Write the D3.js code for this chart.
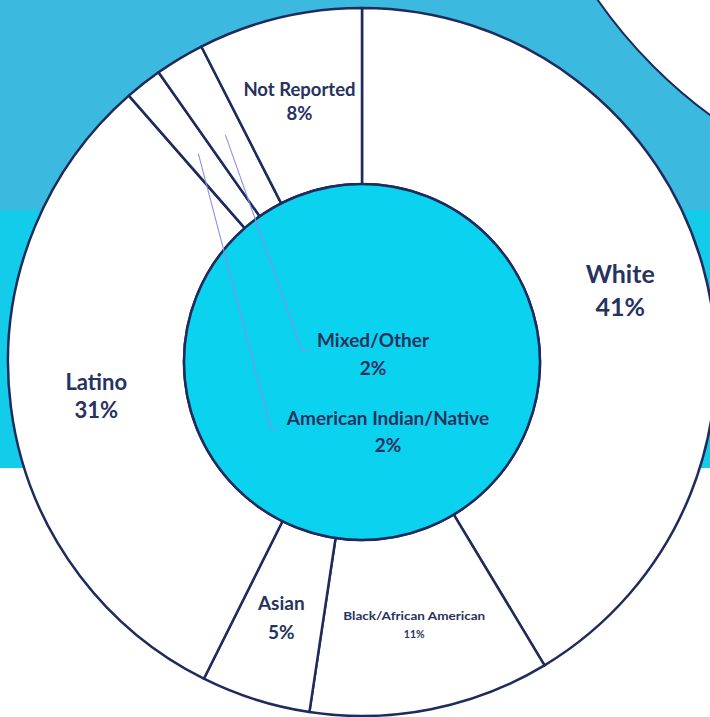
<!DOCTYPE html>
<html><head><meta charset="utf-8">
<script src="https://cdn.jsdelivr.net/npm/d3@7"></script>
<style>html,body{margin:0;padding:0;background:#fff;overflow:hidden}</style>
</head><body>
<svg id="chart" width="710" height="717"></svg>
<script>
// ---- data ----
const categories = ["White", "Black/African American", "Asian", "Latino", "American Indian/Native", "Mixed/Other", "Not Reported"];
const shares = [41.4, 11.0, 5.0, 31.2, 1.7, 2.25, 7.5];
const percentLabels = ["41%", "11%", "5%", "31%", "2%", "2%", "8%"];
const calloutCategories = ["Mixed/Other", "American Indian/Native"];

// ---- layout / style ----
const W = 710, H = 717;
const cx = 362, cy = 362, rOuter = 354, rInner = 178, rLabel = 268;
const navy = "#1E2B5C", textColor = "#28325F";
const fontStyle = {
  "White": {size: 25, gap: 33},
  "Black/African American": {size: 10.5, gap: 18, fit: 142},
  "Asian": {size: 19, gap: 29},
  "Latino": {size: 22, gap: 28},
  "American Indian/Native": {size: 19, gap: 27},
  "Mixed/Other": {size: 19, gap: 28},
  "Not Reported": {size: 18.5, gap: 24}
};
const calloutAnchor = { // first-line baseline position relative to pie center
  "Mixed/Other": [11, -15],
  "American Indian/Native": [26, 63]
};

const svg = d3.select("#chart");

// background bands
svg.append("rect").attr("x", 0).attr("y", 0).attr("width", W).attr("height", 210).attr("fill", "#3BB9DF");
svg.append("rect").attr("x", 0).attr("y", 210).attr("width", W).attr("height", 258).attr("fill", "#12CCEA");
// decorative circle top-right
svg.append("circle").attr("cx", 1000).attr("cy", -280).attr("r", 490)
  .attr("fill", "#fff").attr("stroke", navy).attr("stroke-width", 2);

const data = categories.map((c, i) => ({category: c, share: shares[i], pct: percentLabels[i]}));
const pie = d3.pie().sort(null).value(d => d.share).startAngle(0).endAngle(2 * Math.PI);
const arcs = pie(data);
const arc = d3.arc().innerRadius(rInner).outerRadius(rOuter);
const labelArc = d3.arc().innerRadius(rLabel).outerRadius(rLabel);
const leaderArc = d3.arc().innerRadius(265).outerRadius(265);

const g = svg.append("g").attr("transform", `translate(${cx},${cy})`);

g.selectAll("path.slice").data(arcs).join("path")
  .attr("class", "slice")
  .attr("d", arc)
  .attr("fill", "#fff")
  .attr("stroke", navy)
  .attr("stroke-width", 2.5)
  .attr("stroke-linejoin", "round");

g.append("circle").attr("r", rInner).attr("fill", "#0BD2EE").attr("stroke", navy).attr("stroke-width", 2.5);

function drawLabel(sel, d, x, y, anchor) {
  const st = fontStyle[d.data.category];
  const t = sel.append("text")
    .attr("text-anchor", anchor)
    .attr("font-family", "Lato, 'Open Sans', sans-serif")
    .attr("font-weight", 700)
    .attr("font-size", st.size)
    .attr("fill", textColor);
  const l1 = t.append("tspan").attr("x", x).attr("y", y).text(d.data.category);
  if (st.fit) l1.attr("textLength", st.fit).attr("lengthAdjust", "spacingAndGlyphs");
  t.append("tspan").attr("x", x).attr("y", y + st.gap).text(d.data.pct);
  return l1;
}

// regular labels
arcs.filter(d => !calloutCategories.includes(d.data.category)).forEach(d => {
  const [x, y] = labelArc.centroid(d);
  const st = fontStyle[d.data.category];
  // center the two-line block on the centroid
  const y1 = y - st.gap / 2 + st.size * 0.35;
  drawLabel(g, d, x, y1, "middle");
});

// callouts with leader lines
arcs.filter(d => calloutCategories.includes(d.data.category)).forEach(d => {
  const [ax, ay] = calloutAnchor[d.data.category];
  const l1 = drawLabel(g, d, ax, ay, "middle");
  const bb = l1.node().getBBox();
  const left = bb.x;
  const ly = ay + 4;
  const [sx, sy] = leaderArc.centroid(d);
  g.append("polyline")
    .attr("points", [[sx, sy], [left - 15, ly], [left - 7, ly]].map(p => p.join(",")).join(" "))
    .attr("fill", "none")
    .attr("stroke", "#8C8FE6")
    .attr("stroke-width", 1.1);
});
</script>
</body></html>
